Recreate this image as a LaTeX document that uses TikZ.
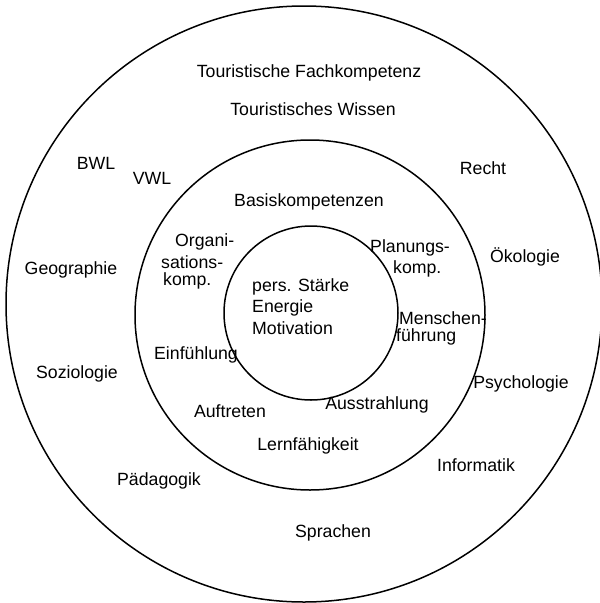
\documentclass[tikz,border=0pt]{standalone}
\usepackage{fontspec}
\setmainfont{Liberation Sans}
\begin{document}
\begin{tikzpicture}[x=1pt,y=-1pt,
  ring/.style={draw=black,line width=1.5pt},
  lbl/.style={font=\fontsize{17.7}{20}\selectfont,inner sep=0pt,text=black},
  ml/.style={lbl,align=left}]
\useasboundingbox (0,0) rectangle (600,603);
\fill[white] (0,0) rectangle (600,603);
\draw[ring] (304,304) circle (298);
\draw[ring] (310,315) circle (175);
\draw[ring] (311,313) circle (87);
% outer ring
\node[lbl] (tfk) at (309,73) {Touristische Fachkompetenz};
\node[lbl] (tw) at (313,109) {Touristisches Wissen};
\node[lbl] (bwl) at (96,163) {BWL};
\node[lbl] (vwl) at (152,178) {VWL};
\node[lbl] (recht) at (483,168) {Recht};
\node[lbl] (geo) at (71,270) {Geographie};
\node[lbl] (oeko) at (525,257) {Ökologie};
\node[lbl] (soz) at (77,374) {Soziologie};
\node[lbl] (psy) at (521,384) {Psychologie};
\node[lbl] (inf) at (476,465) {Informatik};
\node[lbl] (paed) at (159,481) {Pädagogik};
\node[lbl] (spr) at (333,533) {Sprachen};
% middle ring
\node[lbl] (basis) at (309,202) {Basiskompetenzen};
\node[lbl,anchor=west] (org1) at (175,242) {Organi-};
\node[lbl,anchor=west] (org2) at (161,262) {sations-};
\node[lbl,anchor=west] (org3) at (163,281) {komp.};
\node[lbl,anchor=west] (plan1) at (370,248) {Planungs-};
\node[lbl,anchor=west] (plan2) at (393,269) {komp.};
\node[lbl,anchor=west] (men1) at (399,318) {Menschen-};
\node[lbl,anchor=west] (men2) at (396,337) {führung};
\node[lbl] (einf) at (196,355) {Einfühlung};
\node[lbl] (auft) at (230,411) {Auftreten};
\node[lbl] (ausst) at (377,405) {Ausstrahlung};
\node[lbl] (lern) at (308,446) {Lernfähigkeit};
% inner circle
\node[lbl,anchor=west] (k1) at (252,287) {pers. Stärke};
\node[lbl,anchor=west] (k2) at (252,308) {Energie};
\node[lbl,anchor=west] (k3) at (252,328) {Motivation};
\end{tikzpicture}
\end{document}
